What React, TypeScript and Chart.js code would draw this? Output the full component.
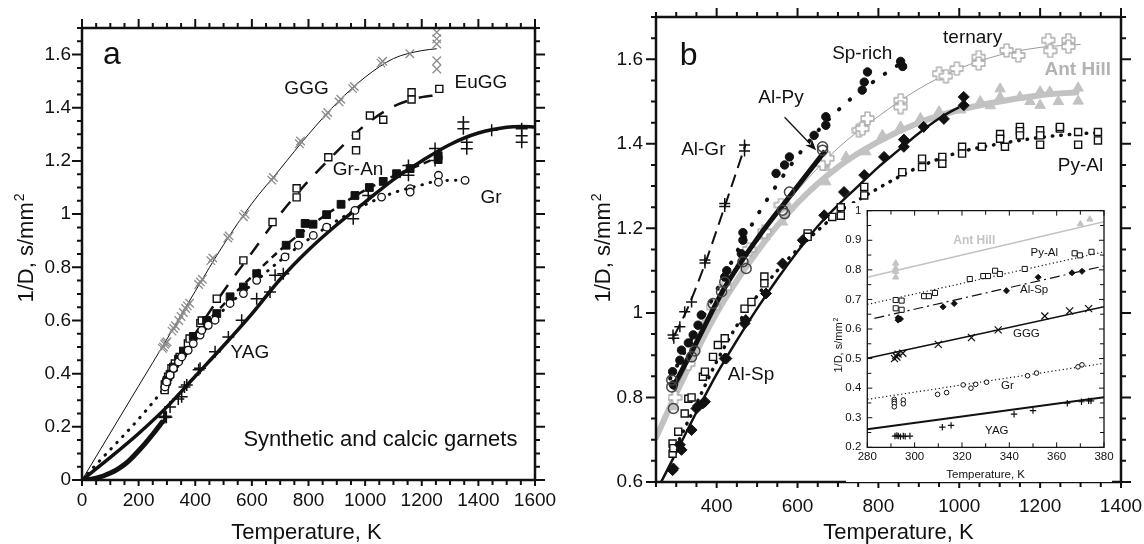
import React, { useEffect, useRef } from "react";
import { Chart, registerables } from "chart.js";

Chart.register(...registerables);

const FONT = '"Liberation Sans", Arial, Helvetica, sans-serif';
const INK = "#111111";
const GREY = "#c2c2c2";

/* ---------------- panel a : synthetic and calcic garnets ---------------- */
const aTempTicks = [0, 200, 400, 600, 800, 1000, 1200, 1400, 1600];
const aInvTicks = [0, 0.2, 0.4, 0.6, 0.8, 1, 1.2, 1.4, 1.6];

// GGG (gadolinium gallium garnet)
const gggT = [284, 288, 292, 296, 300, 318, 324, 330, 342, 350, 358, 366, 372, 380, 412, 418, 425, 455, 462, 515, 520, 570, 576, 670, 676, 768, 772, 862, 868, 908, 914, 956, 962, 1056, 1062, 1158, 1253, 1253, 1253, 1253, 1253];
const gggInvD = [0.495, 0.5, 0.51, 0.515, 0.52, 0.56, 0.57, 0.58, 0.6, 0.615, 0.63, 0.645, 0.655, 0.665, 0.735, 0.745, 0.755, 0.825, 0.835, 0.91, 0.918, 0.99, 1.0, 1.128, 1.138, 1.265, 1.275, 1.372, 1.382, 1.422, 1.432, 1.472, 1.48, 1.568, 1.575, 1.603, 1.684, 1.659, 1.64, 1.577, 1.546];
const gggFitT = [0, 100, 200, 300, 400, 500, 600, 700, 800, 900, 1000, 1100, 1200, 1253];
const gggFitInvD = [0, 0.177, 0.354, 0.53, 0.71, 0.885, 1.04, 1.17, 1.3, 1.418, 1.515, 1.585, 1.615, 1.622];

// EuGG
const euggT = [292, 298, 304, 316, 328, 345, 374, 380, 418, 423, 476, 570, 673, 758, 758, 870, 968, 968, 1017, 1064, 1164, 1164, 1262];
const euggInvD = [0.338, 0.369, 0.388, 0.42, 0.438, 0.463, 0.513, 0.532, 0.59, 0.6, 0.682, 0.826, 0.97, 1.097, 1.063, 1.214, 1.296, 1.24, 1.371, 1.355, 1.458, 1.431, 1.471];
const euggFitT = [290, 400, 500, 600, 700, 800, 900, 1000, 1100, 1200, 1250];
const euggFitInvD = [0.36, 0.55, 0.71, 0.855, 1.0, 1.125, 1.235, 1.335, 1.405, 1.44, 1.447];

// grossular-andradite
const grAnT = [293, 300, 311, 323, 341, 358, 393, 440, 476, 523, 570, 617, 721, 770, 788, 816, 864, 915, 964, 1015, 1064, 1111, 1159, 1258, 1258];
const grAnInvD = [0.36, 0.375, 0.398, 0.425, 0.455, 0.485, 0.54, 0.6, 0.626, 0.689, 0.726, 0.776, 0.883, 0.927, 0.965, 0.962, 0.998, 1.037, 1.07, 1.1, 1.123, 1.152, 1.171, 1.22, 1.205];
const grAnFitT = [290, 400, 500, 600, 700, 800, 900, 1000, 1100, 1200, 1260];
const grAnFitInvD = [0.355, 0.54, 0.66, 0.765, 0.865, 0.95, 1.025, 1.09, 1.143, 1.188, 1.215];

// grossular
const grT = [293, 299, 311, 323, 341, 352, 375, 393, 417, 423, 446, 470, 523, 570, 617, 717, 764, 817, 864, 964, 1058, 1159, 1159, 1259, 1259, 1353];
const grInvD = [0.35, 0.369, 0.394, 0.42, 0.444, 0.463, 0.488, 0.513, 0.545, 0.563, 0.582, 0.601, 0.664, 0.701, 0.751, 0.839, 0.883, 0.92, 0.951, 1.014, 1.064, 1.096, 1.083, 1.146, 1.12, 1.127];
const grFitT = [0, 290, 400, 500, 600, 700, 800, 900, 1000, 1100, 1200, 1260, 1360];
const grFitInvD = [0, 0.345, 0.52, 0.64, 0.735, 0.825, 0.905, 0.975, 1.035, 1.08, 1.11, 1.125, 1.128];

// YAG
const yagT = [289, 292, 295, 298, 311, 340, 352, 362, 370, 412, 417, 470, 517, 564, 617, 664, 682, 711, 958, 1011, 1153, 1153, 1247, 1247, 1347, 1347, 1359, 1359, 1447, 1553, 1553, 1553];
const yagInvD = [0.238, 0.235, 0.24, 0.236, 0.275, 0.305, 0.313, 0.35, 0.357, 0.415, 0.42, 0.482, 0.538, 0.601, 0.682, 0.707, 0.77, 0.776, 0.983, 1.07, 1.183, 1.146, 1.247, 1.202, 1.346, 1.321, 1.27, 1.246, 1.315, 1.321, 1.295, 1.27];
const yagFitT = [0, 100, 200, 300, 400, 500, 600, 700, 800, 900, 1000, 1100, 1200, 1300, 1400, 1500, 1550, 1600];
const yagFitInvD = [0, 0.085, 0.175, 0.275, 0.39, 0.505, 0.625, 0.755, 0.865, 0.96, 1.045, 1.13, 1.2, 1.262, 1.305, 1.327, 1.33, 1.328];
const yagLowT = [0, 25, 50, 75, 100, 125, 150, 175, 200, 225, 250, 270, 283];
const yagLowInvD = [0, 0.002, 0.007, 0.015, 0.026, 0.04, 0.058, 0.082, 0.11, 0.14, 0.172, 0.199, 0.218];

/* ---------------- panel b : aluminous garnets ---------------- */
const bTempTicks = [400, 600, 800, 1000, 1200, 1400];
const bInvTicks = [0.6, 0.8, 1, 1.2, 1.4, 1.6];

const alGrT = [292, 294, 309, 321, 338, 371, 371, 420, 420, 469, 469];
const alGrInvD = [0.948, 0.94, 0.967, 1.003, 1.026, 1.125, 1.118, 1.259, 1.252, 1.397, 1.383];
const alGrFitT = [295, 330, 370, 420, 472];
const alGrFitInvD = [0.945, 1.015, 1.113, 1.252, 1.4];

const spRichT = [291, 293, 309, 313, 330, 342, 354, 362, 420, 425, 461, 465, 465, 547, 568, 580, 641, 670, 670, 760, 765, 773, 855, 860];
const spRichInvD = [0.861, 0.83, 0.888, 0.912, 0.929, 0.948, 0.971, 0.995, 1.085, 1.1, 1.14, 1.172, 1.19, 1.33, 1.35, 1.369, 1.42, 1.464, 1.444, 1.527, 1.546, 1.57, 1.595, 1.583];
const spRichFitT = [285, 350, 420, 500, 580, 650, 730, 800, 870];
const spRichFitInvD = [0.845, 0.96, 1.09, 1.23, 1.345, 1.43, 1.505, 1.555, 1.6];

const alPyT = [289, 289, 293, 338, 346, 391, 412, 420, 465, 473, 563, 568, 580, 662, 662];
const alPyInvD = [0.841, 0.825, 0.774, 0.896, 0.91, 1.022, 1.05, 1.073, 1.121, 1.105, 1.243, 1.235, 1.286, 1.385, 1.393];
const alPyFitT = [290, 350, 420, 500, 580, 668];
const alPyFitInvD = [0.82, 0.93, 1.06, 1.175, 1.275, 1.383];

const ternaryT = [297, 330, 391, 420, 480, 518, 559, 662, 674, 752, 760, 773, 855, 855, 950, 967, 994, 1048, 1048, 1117, 1146, 1220, 1225, 1270, 1270];
const ternaryInvD = [0.8, 0.88, 1.014, 1.06, 1.15, 1.192, 1.255, 1.353, 1.366, 1.432, 1.436, 1.46, 1.503, 1.487, 1.566, 1.56, 1.578, 1.605, 1.59, 1.621, 1.609, 1.645, 1.62, 1.645, 1.63];
const ternaryFitT = [290, 400, 500, 600, 700, 800, 900, 1000, 1100, 1200, 1300];
const ternaryFitInvD = [0.8, 1.02, 1.17, 1.29, 1.39, 1.465, 1.53, 1.578, 1.61, 1.628, 1.635];

const antHillT = [293, 293, 366, 371, 428, 460, 520, 563, 580, 670, 670, 720, 769, 810, 855, 904, 950, 1003, 1052, 1077, 1101, 1101, 1150, 1175, 1200, 1200, 1224, 1245, 1294, 1294];
const antHillInvD = [0.778, 0.802, 0.959, 0.979, 1.07, 1.12, 1.18, 1.215, 1.249, 1.31, 1.344, 1.369, 1.381, 1.42, 1.44, 1.46, 1.476, 1.48, 1.5, 1.49, 1.53, 1.51, 1.511, 1.5, 1.523, 1.491, 1.523, 1.5, 1.532, 1.501];
const antHillFitT = [250, 300, 400, 500, 600, 700, 800, 900, 1000, 1100, 1200, 1290];
const antHillFitInvD = [0.705, 0.81, 1.0, 1.145, 1.26, 1.345, 1.405, 1.45, 1.48, 1.5, 1.515, 1.522];

const alSpT = [291, 293, 309, 313, 338, 350, 354, 366, 371, 420, 424, 469, 472, 522, 563, 613, 666, 715, 765, 814, 863, 863, 912, 962, 1011, 1011];
const alSpInvD = [0.628, 0.632, 0.688, 0.676, 0.723, 0.774, 0.78, 0.786, 0.79, 0.892, 0.892, 0.975, 0.983, 1.046, 1.117, 1.172, 1.231, 1.286, 1.326, 1.369, 1.393, 1.41, 1.44, 1.459, 1.511, 1.491];
const alSpFitT = [260, 300, 350, 400, 450, 500, 550, 600, 650, 700, 750, 800, 850, 900, 950, 1000];
const alSpFitInvD = [0.595, 0.67, 0.765, 0.855, 0.935, 1.01, 1.08, 1.145, 1.205, 1.255, 1.3, 1.345, 1.385, 1.425, 1.46, 1.487];

const pyAlT = [291, 291, 293, 305, 321, 330, 338, 366, 371, 391, 403, 420, 469, 486, 518, 518, 625, 625, 686, 707, 707, 765, 765, 859, 908, 908, 958, 958, 1007, 1007, 1056, 1101, 1101, 1113, 1150, 1150, 1150, 1200, 1200, 1200, 1249, 1249, 1294, 1294, 1343, 1343];
const pyAlInvD = [0.691, 0.667, 0.68, 0.719, 0.762, 0.797, 0.8, 0.849, 0.861, 0.896, 0.924, 0.94, 1.01, 1.026, 1.086, 1.07, 1.188, 1.18, 1.227, 1.25, 1.23, 1.298, 1.278, 1.333, 1.365, 1.345, 1.369, 1.353, 1.393, 1.377, 1.393, 1.423, 1.412, 1.393, 1.44, 1.43, 1.42, 1.432, 1.42, 1.398, 1.436, 1.44, 1.428, 1.398, 1.428, 1.408];
const pyAlFitT = [290, 350, 400, 450, 500, 550, 600, 650, 700, 800, 900, 1000, 1100, 1200, 1300, 1350];
const pyAlFitInvD = [0.665, 0.785, 0.885, 0.97, 1.04, 1.1, 1.15, 1.195, 1.235, 1.295, 1.345, 1.38, 1.4, 1.415, 1.424, 1.426];

/* ---------------- inset : near room temperature ---------------- */
const insTempTicks = [280, 300, 320, 340, 360, 380];
const insInvTicks = [0.2, 0.3, 0.4, 0.5, 0.6, 0.7, 0.8, 0.9, 1];

const insAntT = [292, 292, 292, 292, 370, 374];
const insAntInvD = [0.822, 0.805, 0.794, 0.775, 0.955, 0.971];
const insAntFitT = [280, 380];
const insAntFitInvD = [0.775, 0.963];

const insPyAlT = [292, 294.5, 292, 294.5, 304, 306, 308.6, 323.3, 329, 331, 334, 336, 346.5, 367.6, 369.8, 374.7];
const insPyAlInvD = [0.698, 0.696, 0.67, 0.665, 0.711, 0.711, 0.722, 0.769, 0.779, 0.779, 0.797, 0.786, 0.803, 0.856, 0.849, 0.861];
const insPyAlFitT = [280, 380];
const insPyAlFitInvD = [0.683, 0.861];

const insAlSpT = [293, 293, 294, 312, 316.7, 338.8, 352.2, 366.5, 370.7];
const insAlSpInvD = [0.638, 0.63, 0.634, 0.675, 0.686, 0.729, 0.775, 0.79, 0.795];
const insAlSpFitT = [283, 380];
const insAlSpFitInvD = [0.636, 0.813];

const insGggT = [291.5, 292, 292.5, 293, 295, 310, 324, 335.3, 355, 365.5, 373.5];
const insGggInvD = [0.5, 0.51, 0.505, 0.515, 0.518, 0.548, 0.571, 0.597, 0.644, 0.661, 0.669];
const insGggFitT = [280, 380];
const insGggFitInvD = [0.501, 0.675];

const insGrT = [291.4, 291.4, 291.4, 291.4, 295.2, 295.2, 309.7, 313.5, 320.5, 323.8, 325.8, 330.4, 347.7, 351.5, 369, 370.7];
const insGrInvD = [0.362, 0.355, 0.348, 0.337, 0.36, 0.347, 0.379, 0.385, 0.411, 0.4, 0.413, 0.42, 0.442, 0.451, 0.472, 0.479];
const insGrFitT = [280, 380];
const insGrFitInvD = [0.362, 0.484];

const insYagT = [291.7, 292.5, 293.1, 294, 295.2, 296, 298, 311.7, 315.4, 342, 350, 364.5, 370.5, 373.5, 374.5];
const insYagInvD = [0.238, 0.24, 0.238, 0.236, 0.238, 0.237, 0.238, 0.268, 0.274, 0.312, 0.324, 0.349, 0.354, 0.357, 0.357];
const insYagFitT = [280, 380];
const insYagFitInvD = [0.261, 0.369];

/* ---------------- helpers ---------------- */
type Pt = { x: number; y: number };
const pts = (t: number[], v: number[]): Pt[] => t.map((x, i) => ({ x, y: v[i] }));
const fmt = (v: number) => String(Math.round(v * 1000) / 1000);

function curve(t: number[], v: number[], color: string, width: number, dash: number[], order: number, cap: CanvasLineCap = "butt") {
  return {
    data: pts(t, v),
    showLine: true,
    fill: false,
    borderColor: color,
    backgroundColor: color,
    borderWidth: width,
    borderDash: dash,
    borderCapStyle: cap,
    borderJoinStyle: "round",
    pointRadius: 0,
    pointHoverRadius: 0,
    pointHitRadius: 0,
    cubicInterpolationMode: "monotone",
    order,
  };
}

function marks(t: number[], v: number[], style: any, radius: number, stroke: string, fill: string, width: number, order: number) {
  return {
    data: pts(t, v),
    showLine: false,
    pointStyle: style,
    pointRadius: radius,
    pointHoverRadius: radius,
    pointBorderColor: stroke,
    pointBackgroundColor: fill,
    pointBorderWidth: width,
    borderColor: stroke,
    backgroundColor: fill,
    order,
  };
}

// open "greek cross" symbol used for the ternary garnets
function plusOutline(size: number, color: string, lw: number): HTMLCanvasElement {
  const c = document.createElement("canvas");
  c.width = size;
  c.height = size;
  const g = c.getContext("2d")!;
  const a = size / 3;
  const p = lw / 2 + 0.5;
  const s = size;
  const poly = [
    [a, p], [2 * a, p], [2 * a, a], [s - p, a], [s - p, 2 * a], [2 * a, 2 * a],
    [2 * a, s - p], [a, s - p], [a, 2 * a], [p, 2 * a], [p, a], [a, a],
  ];
  g.beginPath();
  poly.forEach(([x, y], i) => (i ? g.lineTo(x, y) : g.moveTo(x, y)));
  g.closePath();
  g.fillStyle = "#ffffff";
  g.fill();
  g.lineJoin = "round";
  g.strokeStyle = color;
  g.lineWidth = lw;
  g.stroke();
  return c;
}

type Label = { text: string; x: number; y: number; size: number; bold?: boolean; color?: string; align?: CanvasTextAlign; baseline?: CanvasTextBaseline };
type Arrow = { x1: number; y1: number; x2: number; y2: number };
interface Deco {
  inward: boolean;
  frameWidth: number;
  tickWidth: number;
  xMinor: number;
  yMinor: number;
  lens: { top: [number, number]; bottom: [number, number]; left: [number, number]; right: [number, number] };
  texts: Label[];
  arrows?: Arrow[];
  xTitle: { text: string; size: number; dx: number; dy: number };
  yTitle: { text: string; sup: string; size: number; gap: number; dy: number };
  paper?: [number, number, number];
}
interface AxisSpec { min: number; max: number; ticks: number[] }
interface PanelSpec {
  area: { left: number; top: number; right: number; bottom: number };
  x: AxisSpec;
  y: AxisSpec;
  tickSize: number;
  xPad: number;
  yPad: number;
  datasets: any[];
  deco: Deco;
}

const isMajor = (ticks: number[], v: number) => ticks.some((t) => Math.abs(t - v) < 1e-6);

function decoPlugin(d: Deco, xt: number[], yt: number[]) {
  return {
    id: "deco",
    beforeDraw(chart: any) {
      if (!d.paper) return;
      const { ctx, width, height } = chart;
      ctx.save();
      ctx.fillStyle = "#ffffff";
      ctx.fillRect(d.paper[0], d.paper[1], width - d.paper[0] - d.paper[2], height - d.paper[1]);
      ctx.restore();
    },
    afterDatasetsDraw(chart: any) {
      const { ctx, chartArea: a, scales } = chart;
      const xs = scales.x;
      const ys = scales.y;
      const dir = d.inward ? -1 : 1;
      ctx.save();
      ctx.strokeStyle = INK;
      ctx.lineWidth = d.tickWidth;
      ctx.lineCap = "butt";
      ctx.beginPath();
      const nx = Math.round((xs.max - xs.min) / d.xMinor);
      for (let i = 0; i <= nx; i++) {
        const v = xs.min + i * d.xMinor;
        const p = xs.getPixelForValue(v);
        const m = isMajor(xt, v) ? 0 : 1;
        ctx.moveTo(p, a.bottom);
        ctx.lineTo(p, a.bottom + dir * d.lens.bottom[m]);
        ctx.moveTo(p, a.top);
        ctx.lineTo(p, a.top - dir * d.lens.top[m]);
      }
      const ny = Math.round((ys.max - ys.min) / d.yMinor);
      for (let i = 0; i <= ny; i++) {
        const v = ys.min + i * d.yMinor;
        const p = ys.getPixelForValue(v);
        const m = isMajor(yt, v) ? 0 : 1;
        ctx.moveTo(a.left, p);
        ctx.lineTo(a.left - dir * d.lens.left[m], p);
        ctx.moveTo(a.right, p);
        ctx.lineTo(a.right + dir * d.lens.right[m], p);
      }
      ctx.stroke();
      // plot frame, drawn side by side
      ctx.lineWidth = d.frameWidth;
      ctx.lineCap = "square";
      ctx.beginPath();
      ctx.moveTo(a.left, a.top);
      ctx.lineTo(a.right, a.top);
      ctx.lineTo(a.right, a.bottom);
      ctx.lineTo(a.left, a.bottom);
      ctx.closePath();
      ctx.stroke();
      ctx.restore();
    },
    afterDraw(chart: any) {
      const { ctx, chartArea: a, scales } = chart;
      const xs = scales.x;
      const ys = scales.y;
      ctx.save();
      for (const t of d.texts) {
        ctx.font = `${t.bold ? "bold " : ""}${t.size}px ${FONT}`;
        ctx.fillStyle = t.color || INK;
        ctx.textAlign = t.align || "center";
        ctx.textBaseline = t.baseline || "middle";
        ctx.fillText(t.text, xs.getPixelForValue(t.x), ys.getPixelForValue(t.y));
      }
      for (const ar of d.arrows || []) {
        const x1 = xs.getPixelForValue(ar.x1);
        const y1 = ys.getPixelForValue(ar.y1);
        const x2 = xs.getPixelForValue(ar.x2);
        const y2 = ys.getPixelForValue(ar.y2);
        const ang = Math.atan2(y2 - y1, x2 - x1);
        const hl = 11;
        const hw = 4.5;
        ctx.strokeStyle = INK;
        ctx.lineWidth = 1.3;
        ctx.beginPath();
        ctx.moveTo(x1, y1);
        ctx.lineTo(x2 - Math.cos(ang) * hl * 0.8, y2 - Math.sin(ang) * hl * 0.8);
        ctx.stroke();
        ctx.fillStyle = INK;
        ctx.beginPath();
        ctx.moveTo(x2, y2);
        ctx.lineTo(x2 - Math.cos(ang) * hl - Math.sin(ang) * hw, y2 - Math.sin(ang) * hl + Math.cos(ang) * hw);
        ctx.lineTo(x2 - Math.cos(ang) * hl * 0.7, y2 - Math.sin(ang) * hl * 0.7);
        ctx.lineTo(x2 - Math.cos(ang) * hl + Math.sin(ang) * hw, y2 - Math.sin(ang) * hl - Math.cos(ang) * hw);
        ctx.closePath();
        ctx.fill();
      }
      // axis titles
      ctx.fillStyle = INK;
      ctx.font = `${d.xTitle.size}px ${FONT}`;
      ctx.textAlign = "center";
      ctx.textBaseline = "alphabetic";
      ctx.fillText(d.xTitle.text, (a.left + a.right) / 2 + d.xTitle.dx, a.bottom + d.xTitle.dy);

      const yt2 = d.yTitle;
      ctx.translate(a.left - yt2.gap, (a.top + a.bottom) / 2 + yt2.dy);
      ctx.rotate(-Math.PI / 2);
      const mainFont = `${yt2.size}px ${FONT}`;
      const supSize = Math.round(yt2.size * 0.62);
      const supFont = `${supSize}px ${FONT}`;
      ctx.font = mainFont;
      const w1 = ctx.measureText(yt2.text).width;
      ctx.font = supFont;
      const w2 = ctx.measureText(yt2.sup).width;
      const start = -(w1 + w2 + 1) / 2;
      ctx.textAlign = "left";
      ctx.font = mainFont;
      ctx.fillText(yt2.text, start, 0);
      ctx.font = supFont;
      ctx.fillText(yt2.sup, start + w1 + 1, -yt2.size * 0.4);
      ctx.restore();
    },
  };
}

function makeConfig(p: PanelSpec): any {
  const tickFont = { family: FONT, size: p.tickSize };
  const zeroPad = (s: any) => {
    s.paddingLeft = 0;
    s.paddingRight = 0;
    s.paddingTop = 0;
    s.paddingBottom = 0;
  };
  return {
    type: "scatter",
    data: { datasets: p.datasets },
    options: {
      responsive: false,
      maintainAspectRatio: false,
      animation: false,
      devicePixelRatio: 1,
      events: [],
      layout: { padding: { left: 0, top: p.area.top, right: p.area.right, bottom: 0 } },
      plugins: { legend: { display: false }, tooltip: { enabled: false }, title: { display: false } },
      scales: {
        x: {
          type: "linear",
          position: "bottom",
          min: p.x.min,
          max: p.x.max,
          grid: { display: false, drawTicks: false },
          border: { display: false },
          ticks: { font: tickFont, color: INK, padding: p.xPad, autoSkip: false, maxRotation: 0, minRotation: 0, callback: (v: any) => fmt(Number(v)) },
          afterBuildTicks: (s: any) => {
            s.ticks = p.x.ticks.map((value) => ({ value }));
          },
          afterFit: (s: any) => {
            s.height = p.area.bottom;
            zeroPad(s);
          },
        },
        y: {
          type: "linear",
          position: "left",
          min: p.y.min,
          max: p.y.max,
          grid: { display: false, drawTicks: false },
          border: { display: false },
          ticks: { font: tickFont, color: INK, padding: p.yPad, autoSkip: false, callback: (v: any) => fmt(Number(v)) },
          afterBuildTicks: (s: any) => {
            s.ticks = p.y.ticks.map((value) => ({ value }));
          },
          afterFit: (s: any) => {
            s.width = p.area.left;
            zeroPad(s);
          },
        },
      },
    },
    plugins: [decoPlugin(p.deco, p.x.ticks, p.y.ticks)],
  };
}

const mainLens = { top: [9, 5] as [number, number], bottom: [6, 5] as [number, number], left: [10, 5] as [number, number], right: [10, 5] as [number, number] };

function buildPanelA(): PanelSpec {
  return {
    area: { left: 82, top: 28, right: 35, bottom: 64 },
    x: { min: 0, max: 1600, ticks: aTempTicks },
    y: { min: 0, max: 1.7, ticks: aInvTicks },
    tickSize: 19,
    xPad: 9,
    yPad: 11,
    datasets: [
      curve(gggFitT, gggFitInvD, INK, 1, [], 60),
      curve(euggFitT, euggFitInvD, INK, 2.5, [14, 12], 59),
      curve(grAnFitT, grAnFitInvD, INK, 2.5, [7, 5], 58),
      curve(grFitT, grFitInvD, INK, 3, [0.5, 8], 57, "round"),
      curve(yagFitT, yagFitInvD, INK, 3.5, [], 56),
      curve(yagLowT, yagLowInvD, INK, 5, [], 55, "round"),
      marks(gggT, gggInvD, "crossRot", 6, "#8c8c8c", "#8c8c8c", 1.3, 10),
      marks(euggT, euggInvD, "rect", 5, INK, "#ffffff", 1.4, 9),
      marks(grAnT, grAnInvD, "rect", 5.5, INK, INK, 1, 8),
      marks(grT, grInvD, "circle", 3.8, INK, "#ffffff", 1.3, 7),
      marks(yagT, yagInvD, "cross", 6, INK, INK, 1.5, 6),
    ],
    deco: {
      inward: false,
      frameWidth: 2.5,
      tickWidth: 2,
      xMinor: 50,
      yMinor: 0.05,
      lens: mainLens,
      texts: [
        { text: "a", x: 74, y: 1.566, size: 32, align: "left", baseline: "alphabetic" },
        { text: "GGG", x: 793, y: 1.472, size: 19 },
        { text: "EuGG", x: 1409, y: 1.495, size: 19 },
        { text: "Gr-An", x: 975, y: 1.168, size: 19 },
        { text: "Gr", x: 1445, y: 1.063, size: 19 },
        { text: "YAG", x: 593, y: 0.477, size: 19 },
        { text: "Synthetic and calcic garnets", x: 1054, y: 0.15, size: 22 },
      ],
      xTitle: { text: "Temperature, K", size: 22, dx: -2, dy: 59 },
      yTitle: { text: "1/D, s/mm", sup: "2", size: 22, gap: 49, dy: -6 },
    },
  };
}

function buildPanelB(): PanelSpec {
  const cross = plusOutline(15, "#a8a8a8", 1.3);
  return {
    area: { left: 86, top: 17, right: 23, bottom: 62 },
    x: { min: 250, max: 1400, ticks: bTempTicks },
    y: { min: 0.6, max: 1.7, ticks: bInvTicks },
    tickSize: 19,
    xPad: 13,
    yPad: 13,
    datasets: [
      curve(antHillFitT, antHillFitInvD, GREY, 6, [], 100, "round"),
      curve(ternaryFitT, ternaryFitInvD, "#9a9a9a", 1, [], 95),
      marks(antHillT, antHillInvD, "triangle", 6, GREY, GREY, 1, 90),
      marks(ternaryT, ternaryInvD, cross, 7, "#a8a8a8", "#ffffff", 1, 85),
      curve(pyAlFitT, pyAlFitInvD, INK, 3.5, [0.5, 8], 80, "round"),
      curve(alSpFitT, alSpFitInvD, INK, 2.5, [], 75),
      curve(alPyFitT, alPyFitInvD, INK, 5, [], 70),
      curve(spRichFitT, spRichFitInvD, INK, 4, [0.5, 14], 65, "round"),
      curve(alGrFitT, alGrFitInvD, INK, 2, [13, 7], 60),
      marks(pyAlT, pyAlInvD, "rect", 5, INK, "#ffffff", 1.4, 40),
      marks(alSpT, alSpInvD, "rectRot", 5.5, INK, INK, 1, 35),
      marks(spRichT, spRichInvD, "circle", 4.2, INK, INK, 1, 25),
      marks(alPyT, alPyInvD, "circle", 5, "#444444", "rgba(255,255,255,0)", 1.5, 20),
      marks(alGrT, alGrInvD, "cross", 5.5, INK, INK, 1.5, 10),
    ],
    deco: {
      inward: false,
      frameWidth: 2.5,
      tickWidth: 2,
      xMinor: 50,
      yMinor: 0.05,
      lens: mainLens,
      texts: [
        { text: "b", x: 309, y: 1.586, size: 32, align: "left", baseline: "alphabetic" },
        { text: "Sp-rich", x: 760, y: 1.614, size: 19 },
        { text: "ternary", x: 1033, y: 1.65, size: 19 },
        { text: "Ant Hill", x: 1293, y: 1.574, size: 19, bold: true, color: "#b3b3b3" },
        { text: "Al-Py", x: 559, y: 1.508, size: 19 },
        { text: "Al-Gr", x: 367, y: 1.385, size: 19 },
        { text: "Py-Al", x: 1300, y: 1.349, size: 19 },
        { text: "Al-Sp", x: 485, y: 0.853, size: 19 },
      ],
      arrows: [{ x1: 568, y1: 1.463, x2: 646, y2: 1.385 }],
      xTitle: { text: "Temperature, K", size: 22, dx: 10, dy: 57 },
      yTitle: { text: "1/D, s/mm", sup: "2", size: 22, gap: 46, dy: -1.5 },
    },
  };
}

function buildInset(): PanelSpec {
  return {
    area: { left: 41.3, top: 10.7, right: 12, bottom: 34.7 },
    x: { min: 280, max: 380, ticks: insTempTicks },
    y: { min: 0.2, max: 1, ticks: insInvTicks },
    tickSize: 11.5,
    xPad: 3,
    yPad: 6,
    datasets: [
      curve(insAntFitT, insAntFitInvD, GREY, 1.5, [], 60),
      curve(insPyAlFitT, insPyAlFitInvD, INK, 1.2, [1.2, 2.6], 59),
      curve(insAlSpFitT, insAlSpFitInvD, INK, 1.2, [10, 4, 2, 4], 58),
      curve(insGggFitT, insGggFitInvD, INK, 1.5, [], 57),
      curve(insGrFitT, insGrFitInvD, INK, 1.2, [1.2, 2.6], 56),
      curve(insYagFitT, insYagFitInvD, INK, 2, [], 55),
      marks(insAntT, insAntInvD, "triangle", 3.6, GREY, GREY, 1, 10),
      marks(insPyAlT, insPyAlInvD, "rect", 3.6, INK, "#ffffff", 1, 9),
      marks(insAlSpT, insAlSpInvD, "rectRot", 3, INK, INK, 1, 8),
      marks(insGggT, insGggInvD, "crossRot", 5, INK, INK, 1.2, 7),
      marks(insGrT, insGrInvD, "circle", 2.3, INK, "#ffffff", 1, 6),
      marks(insYagT, insYagInvD, "cross", 3.2, INK, INK, 1.2, 5),
    ],
    deco: {
      inward: true,
      frameWidth: 1.3,
      tickWidth: 1,
      xMinor: 10,
      yMinor: 0.05,
      lens: { top: [5, 4], bottom: [5, 4], left: [5, 4], right: [5, 4] },
      texts: [
        { text: "Ant Hill", x: 325.2, y: 0.898, size: 12, bold: true, color: "#c4c4c4" },
        { text: "Py-Al", x: 354.8, y: 0.857, size: 11.5 },
        { text: "Al-Sp", x: 350.5, y: 0.732, size: 11.5 },
        { text: "GGG", x: 347.2, y: 0.583, size: 11.5 },
        { text: "Gr", x: 339.2, y: 0.407, size: 11.5 },
        { text: "YAG", x: 334.7, y: 0.256, size: 11.5 },
      ],
      xTitle: { text: "Temperature, K", size: 11.5, dx: 0, dy: 30.7 },
      yTitle: { text: "1/D, s/mm", sup: "2", size: 11, gap: 25.3, dy: 16 },
      paper: [20, 3, 4],
    },
  };
}

function ChartCanvas({ left, top, width, height, build }: { left: number; top: number; width: number; height: number; build: () => PanelSpec }) {
  const ref = useRef<HTMLCanvasElement>(null);
  useEffect(() => {
    const chart = new Chart(ref.current!, makeConfig(build()));
    return () => chart.destroy();
  }, []);
  return (
    <canvas
      ref={ref}
      width={width}
      height={height}
      style={{ position: "absolute", left, top, width, height, display: "block" }}
    />
  );
}

export default function App() {
  return (
    <div style={{ position: "absolute", left: 0, top: 0, width: 1144, height: 544, background: "#ffffff", overflow: "hidden" }}>
      <ChartCanvas left={0} top={0} width={570} height={544} build={buildPanelA} />
      <ChartCanvas left={570} top={0} width={574} height={544} build={buildPanelB} />
      <ChartCanvas left={826} top={200} width={290} height={282} build={buildInset} />
    </div>
  );
}
